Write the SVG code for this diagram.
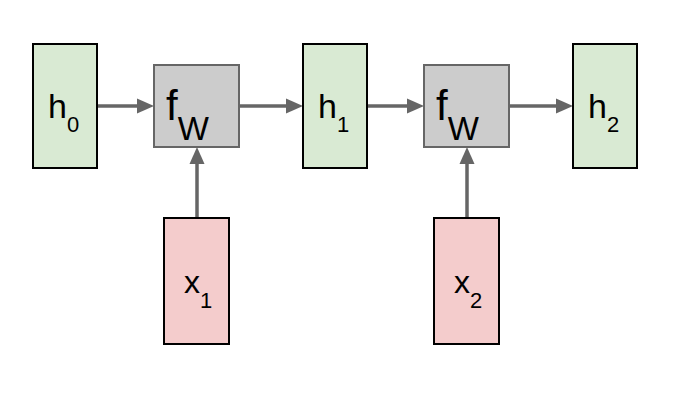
<svg xmlns="http://www.w3.org/2000/svg" width="684" height="410" viewBox="0 0 684 410">
<defs>
<style>
.h{fill:#d9ead3;stroke:#000;stroke-width:2}
.x{fill:#f4cccc;stroke:#000;stroke-width:2}
.f{fill:#cccccc;stroke:#666;stroke-width:2}
.t{font-family:"Liberation Sans",Arial,sans-serif;fill:#000}
.ln{stroke:#666;stroke-width:3.5;fill:none}
.hd{fill:#666}
</style>
</defs>
<rect width="684" height="410" fill="#fff"/>
<g id="connectors">
<line class="ln" x1="97" y1="106" x2="140" y2="106"/><path class="hd" d="M154,106 L137,98.5 L137,113.5 Z"/>
<line class="ln" x1="239" y1="106" x2="289" y2="106"/><path class="hd" d="M303,106 L286,98.5 L286,113.5 Z"/>
<line class="ln" x1="367" y1="106" x2="410" y2="106"/><path class="hd" d="M424,106 L407,98.5 L407,113.5 Z"/>
<line class="ln" x1="509" y1="106" x2="559" y2="106"/><path class="hd" d="M573,106 L556,98.5 L556,113.5 Z"/>
<line class="ln" x1="197" y1="218" x2="197" y2="161"/><path class="hd" d="M197,147 L189.5,164 L204.5,164 Z"/>
<line class="ln" x1="467" y1="218" x2="467" y2="161"/><path class="hd" d="M467,147 L459.5,164 L474.5,164 Z"/>
</g>
<g id="h0"><rect class="h" x="33" y="44" width="64" height="124"/><text class="t" x="48" y="118" font-size="34">h<tspan font-size="22" dy="14">0</tspan></text></g>
<g id="fW1"><rect class="f" x="154" y="65" width="85" height="82"/><text class="t" x="166" y="120" font-size="42">f<tspan font-size="33" dy="20">W</tspan></text></g>
<g id="h1"><rect class="h" x="303" y="44" width="64" height="124"/><text class="t" x="318" y="118" font-size="34">h<tspan font-size="22" dy="14">1</tspan></text></g>
<g id="fW2"><rect class="f" x="424" y="65" width="85" height="82"/><text class="t" x="436" y="120" font-size="42">f<tspan font-size="33" dy="20">W</tspan></text></g>
<g id="h2"><rect class="h" x="573" y="44" width="64" height="124"/><text class="t" x="588" y="118" font-size="34">h<tspan font-size="22" dy="14">2</tspan></text></g>
<g id="x1"><rect class="x" x="164" y="218" width="65" height="126"/><text class="t" x="184" y="293" font-size="32">x<tspan font-size="22" dy="15">1</tspan></text></g>
<g id="x2"><rect class="x" x="434" y="218" width="65" height="126"/><text class="t" x="454" y="293" font-size="32">x<tspan font-size="22" dy="15">2</tspan></text></g>
</svg>
